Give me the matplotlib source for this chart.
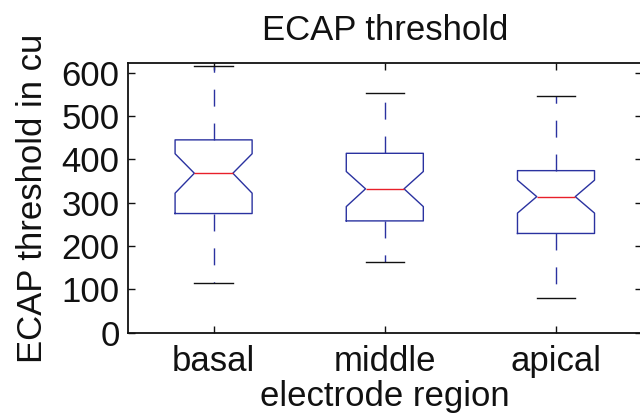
import matplotlib
matplotlib.use("Agg")
import matplotlib.pyplot as plt

categories = ["basal", "middle", "apical"]
whislo = [114, 164, 79]
q1 = [275, 258, 229]
med = [368, 332, 314]
q3 = [445, 414, 374]
whishi = [616, 554, 546]
cilo = [322, 291, 276]
cihi = [413, 372, 352]
yticks = [0, 100, 200, 300, 400, 500, 600]

plt.rcParams['font.family'] = ['Liberation Sans', 'DejaVu Sans']
plt.rcParams['lines.scale_dashes'] = False

fig = plt.figure(figsize=(6.4, 4.18), dpi=100)
ax = fig.add_axes([128/640, 85.3/418, 513.6/640, 269.4/418])

stats = []
for i, c in enumerate(categories):
    stats.append(dict(label=c, whislo=whislo[i], q1=q1[i], med=med[i], q3=q3[i],
                      whishi=whishi[i], cilo=cilo[i], cihi=cihi[i], fliers=[]))

boxc = '#2a32a0'
ax.bxp(stats, positions=[1, 2, 3], widths=0.45, shownotches=True, showfliers=False,
       boxprops=dict(color=boxc, linewidth=1.0),
       whiskerprops=dict(color=boxc, linewidth=1.0, linestyle=(0, (12.2, 12.2))),
       capprops=dict(color='#111111', linewidth=1.0),
       medianprops=dict(color='#e8202a', linewidth=1.0))

ax.set_xlim(0.5, 3.5)
ax.set_ylim(0, 621.7)
ax.set_yticks(yticks)
ax.set_yticklabels([str(v) for v in yticks])
ax.set_xticks([1, 2, 3])
ax.set_xticklabels(categories)
ax.tick_params(direction='in', length=5, width=1.0, top=True, right=True,
               labelsize=25, pad=6, colors='#111111')
ax.tick_params(axis='x', pad=9)
for s in ax.spines.values():
    s.set_linewidth(1.3)
    s.set_color('#111111')

ax.set_title("ECAP threshold", fontsize=25, pad=17, color='#111111')
ax.set_xlabel("electrode region", fontsize=25, labelpad=1, color='#111111')
ax.set_ylabel("ECAP threshold in cu", fontsize=25, labelpad=9, color='#111111')

fig.savefig("out.png", dpi=100)
